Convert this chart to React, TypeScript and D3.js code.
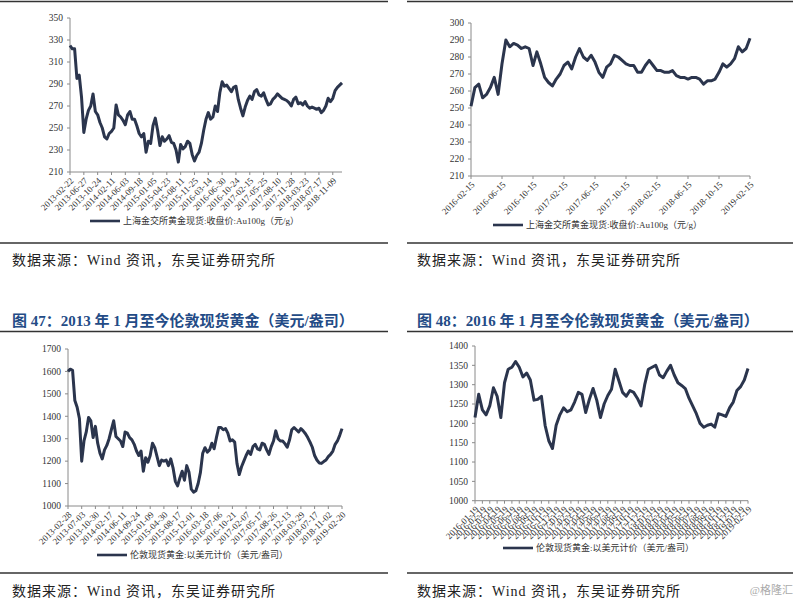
import * as d3 from 'd3';

// 上海金交所 Au100g, 2013-02 ~ 2019-02 (元/g)
const sgeLongLabels = [
  '2013-02-22', '2013-06-27', '2013-10-24', '2014-02-11', '2014-06-03', '2014-09-18', '2015-01-05',
  '2015-04-23', '2015-08-11', '2015-11-25', '2016-03-14', '2016-06-30', '2016-10-24', '2017-02-15',
  '2017-05-25', '2017-08-10', '2017-11-28', '2018-03-23', '2018-07-17', '2018-11-09',
];
const sgeLongValues = [
  325, 322, 322, 295, 298, 278, 246, 258, 266, 270, 281, 265, 262, 255, 250, 242, 240, 245, 247, 250,
  271, 262, 260, 257, 253, 262, 265, 258, 258, 252, 245, 242, 245, 228, 238, 236, 252, 259, 248, 234,
  242, 238, 240, 243, 237, 236, 230, 219, 235, 231, 233, 238, 236, 226, 220, 225, 228, 236, 248, 258,
  264, 258, 260, 270, 265, 282, 292, 288, 289, 286, 283, 287, 288, 276, 268, 261, 269, 275, 279, 276,
  283, 285, 280, 279, 282, 276, 271, 272, 276, 278, 281, 279, 277, 276, 275, 273, 270, 276, 278, 272,
  273, 271, 274, 270, 268, 269, 268, 267, 268, 264, 266, 270, 277, 274, 277, 284, 287, 289, 291,
];
const sgeLongTicks = [210, 230, 250, 270, 290, 310, 330, 350];

// 上海金交所 Au100g, 2016-02 ~ 2019-02
const sgeShortLabels = [
  '2016-02-15', '2016-06-15', '2016-10-15', '2017-02-15', '2017-06-15',
  '2017-10-15', '2018-02-15', '2018-06-15', '2018-10-15', '2019-02-15',
];
const sgeShortValues = [
  251, 262, 264, 256, 258, 262, 268, 258, 276, 290, 286, 288, 287, 285, 286, 285, 275, 283, 276, 268,
  265, 263, 267, 270, 275, 277, 273, 280, 285, 280, 278, 281, 277, 271, 268, 274, 276, 281, 280, 278,
  276, 275, 275, 271, 271, 275, 278, 275, 272, 272, 271, 271, 272, 269, 268, 268, 267, 268, 268, 267,
  264, 266, 266, 267, 271, 276, 274, 276, 279, 286, 283, 285, 291,
];
const sgeShortTicks = [210, 220, 230, 240, 250, 260, 270, 280, 290, 300];

// 伦敦现货黄金, 2013-02 ~ 2019-02 (美元/盎司)
const lbmaLongLabels = [
  '2013-02-28', '2013-07-03', '2013-10-30', '2014-02-17', '2014-06-11', '2014-09-24', '2015-01-09',
  '2015-04-30', '2015-08-17', '2015-12-01', '2016-03-18', '2016-07-06', '2016-10-21', '2017-02-07',
  '2017-05-17', '2017-08-26', '2017-12-13', '2018-03-29', '2018-07-17', '2018-11-02', '2019-02-20',
];
const lbmaLongValues = [
  1600, 1610, 1605, 1470, 1440, 1390, 1200, 1290, 1330, 1395, 1380, 1305, 1355, 1280, 1235, 1210,
  1250, 1270, 1300, 1340, 1380, 1310, 1300, 1290, 1265, 1330, 1325, 1305, 1295, 1275, 1245, 1225,
  1245, 1155, 1215, 1195, 1225, 1280, 1260, 1220, 1180, 1205, 1200, 1205, 1180, 1210, 1170, 1110,
  1090, 1125, 1155, 1115, 1180, 1150, 1075, 1062, 1068, 1100, 1150, 1235, 1260, 1240, 1250, 1280,
  1255, 1305, 1350, 1350, 1340, 1345, 1325, 1290, 1295, 1285, 1190, 1140, 1175, 1200, 1225, 1245,
  1230, 1265, 1275, 1255, 1250, 1280, 1275, 1250, 1230, 1265, 1290, 1335, 1300, 1290, 1290, 1278,
  1262, 1294, 1340, 1350, 1340, 1330, 1345, 1335, 1322, 1305, 1285, 1262, 1225, 1205, 1192, 1190,
  1198, 1205, 1220, 1230, 1245, 1275, 1290, 1315, 1345,
];
const lbmaLongTicks = [1000, 1100, 1200, 1300, 1400, 1500, 1600, 1700];

// 伦敦现货黄金, 2016-01 ~ 2019-02
const lbmaShortLabels = [
  '2016-01-19', '2016-02-19', '2016-03-19', '2016-04-19', '2016-05-19', '2016-06-19', '2016-07-19',
  '2016-08-19', '2016-09-19', '2016-10-19', '2016-11-19', '2016-12-19', '2017-01-19', '2017-02-19',
  '2017-03-19', '2017-04-19', '2017-05-19', '2017-06-19', '2017-07-19', '2017-08-19', '2017-09-19',
  '2017-10-19', '2017-11-19', '2017-12-19', '2018-01-19', '2018-02-19', '2018-03-19', '2018-04-19',
  '2018-05-19', '2018-06-19', '2018-07-19', '2018-08-19', '2018-09-19', '2018-10-19', '2018-11-19',
  '2018-12-19', '2019-01-19', '2019-02-19',
];
const lbmaShortValues = [
  1215, 1275, 1235, 1222, 1245, 1292, 1270, 1215, 1305, 1340, 1345, 1360, 1345, 1320, 1330, 1312,
  1260, 1262, 1270, 1195, 1155, 1135, 1195, 1222, 1240, 1230, 1235, 1255, 1280, 1275, 1228, 1262,
  1290, 1260, 1215, 1250, 1272, 1288, 1340, 1310, 1280, 1270, 1285, 1280, 1265, 1245, 1300, 1340,
  1345, 1350, 1325, 1318, 1335, 1350, 1325, 1305, 1298, 1290, 1265, 1245, 1225, 1200, 1190, 1195,
  1198, 1190, 1225, 1222, 1218, 1240, 1255, 1285, 1295, 1312, 1342,
];
const lbmaShortTicks = [1000, 1050, 1100, 1150, 1200, 1250, 1300, 1350, 1400];

const sgeLegend = '上海金交所黄金现货:收盘价:Au100g（元/g）';
const lbmaLegend = '伦敦现货黄金:以美元计价（美元/盎司）';
const sourceText = '数据来源：Wind 资讯，东吴证券研究所';
const title47 = '图 47：2013 年 1 月至今伦敦现货黄金（美元/盎司）';
const title48 = '图 48：2016 年 1 月至今伦敦现货黄金（美元/盎司）';

const FONT = '"Liberation Serif", "Noto Sans CJK SC", serif';
const LINE = '#2b354d';
const AXIS = '#8a8a8a';
const TITLE = '#234b86';

interface ChartProps {
  values: number[];
  labels: string[];
  tickEvery: number;
  yTicks: number[];
  x0: number;
  x1: number;
  yTop: number;
  yBottom: number;
  legend: string;
  legendX: number;
  legendY: number;
}

function GoldChart({ values, labels, tickEvery, yTicks, x0, x1, yTop, yBottom, legend, legendX, legendY }: ChartProps) {
  const x = d3.scaleLinear().domain([0, values.length - 1]).range([x0, x1]);
  const y = d3.scaleLinear()
    .domain([yTicks[0], yTicks[yTicks.length - 1]])
    .range([yBottom, yTop]);
  const path = d3.line<number>()
    .x((_, i) => x(i))
    .y(d => y(d))(values) || '';

  return (
    <g fontFamily={FONT}>
      {/* y axis */}
      <line x1={x0} x2={x0} y1={yTop} y2={yBottom} stroke={AXIS} strokeWidth={1} />
      {yTicks.map(t => (
        <g key={t}>
          <line x1={x0 - 3} x2={x0} y1={y(t)} y2={y(t)} stroke={AXIS} strokeWidth={1} />
          <text x={x0 - 7} y={y(t)} dy="0.35em" textAnchor="end" fontSize={9.5} fill="#333">{t}</text>
        </g>
      ))}
      {/* x axis */}
      <line x1={x0} x2={x1} y1={yBottom} y2={yBottom} stroke={AXIS} strokeWidth={1} />
      {labels.map((lab, k) => {
        const tx = x(k * tickEvery);
        return (
          <g key={lab}>
            <line x1={tx} x2={tx} y1={yBottom} y2={yBottom + 3} stroke={AXIS} strokeWidth={1} />
            <text
              transform={`translate(${tx + 2},${yBottom + 7}) rotate(-45)`}
              textAnchor="end"
              dy="0.35em"
              fontSize={9}
              fill="#333"
            >
              {lab}
            </text>
          </g>
        );
      })}
      <path d={path} fill="none" stroke={LINE} strokeWidth={3} strokeLinejoin="round" />
      {/* legend */}
      <line x1={legendX} x2={legendX + 30} y1={legendY} y2={legendY} stroke={LINE} strokeWidth={2.6} />
      <text x={legendX + 33} y={legendY} dy="0.35em" fontSize={9} fill="#333">{legend}</text>
    </g>
  );
}

function Rule({ x1, x2, y }: { x1: number; x2: number; y: number }) {
  return <line x1={x1} x2={x2} y1={y} y2={y} stroke="#333" strokeWidth={1.6} />;
}

function Source({ x, y }: { x: number; y: number }) {
  return (
    <text x={x} y={y} fontFamily={FONT} fontSize={14} letterSpacing={1} fill="#222">{sourceText}</text>
  );
}

export default function App() {
  return (
    <svg width={800} height={600} style={{ position: 'absolute', left: 0, top: 0, background: '#fff' }}>
      <rect width={800} height={600} fill="#fff" />

      {/* top-left */}
      <Rule x1={0} x2={388} y={1.5} />
      <GoldChart values={sgeLongValues} labels={sgeLongLabels} tickEvery={6} yTicks={sgeLongTicks}
        x0={70} x1={342} yTop={18} yBottom={172} legend={sgeLegend} legendX={90} legendY={221} />
      <Rule x1={0} x2={388} y={243} />
      <Source x={12} y={265} />

      {/* top-right */}
      <Rule x1={407} x2={793} y={1.5} />
      <GoldChart values={sgeShortValues} labels={sgeShortLabels} tickEvery={8} yTicks={sgeShortTicks}
        x0={471} x1={750} yTop={23} yBottom={176} legend={sgeLegend} legendX={493} legendY={225} />
      <Rule x1={407} x2={793} y={243} />
      <Source x={417} y={265} />

      {/* bottom-left */}
      <text x={12} y={326} fontFamily={FONT} fontSize={15} fontWeight="bold" fill={TITLE}>{title47}</text>
      <Rule x1={0} x2={388} y={331.5} />
      <GoldChart values={lbmaLongValues} labels={lbmaLongLabels} tickEvery={6} yTicks={lbmaLongTicks}
        x0={68} x1={342} yTop={349} yBottom={506} legend={lbmaLegend} legendX={97} legendY={555} />
      <Rule x1={0} x2={388} y={573} />
      <Source x={12} y={596} />

      {/* bottom-right */}
      <text x={417} y={326} fontFamily={FONT} fontSize={15} fontWeight="bold" fill={TITLE}>{title48}</text>
      <Rule x1={407} x2={793} y={331.5} />
      <GoldChart values={lbmaShortValues} labels={lbmaShortLabels} tickEvery={2} yTicks={lbmaShortTicks}
        x0={475} x1={748} yTop={346} yBottom={500.7} legend={lbmaLegend} legendX={503} legendY={548} />
      <Rule x1={407} x2={793} y={573} />
      <Source x={417} y={596} />
      <text x={793} y={594} textAnchor="end" fontFamily={FONT} fontSize={11} fill="#aaa">@格隆汇</text>
    </svg>
  );
}
